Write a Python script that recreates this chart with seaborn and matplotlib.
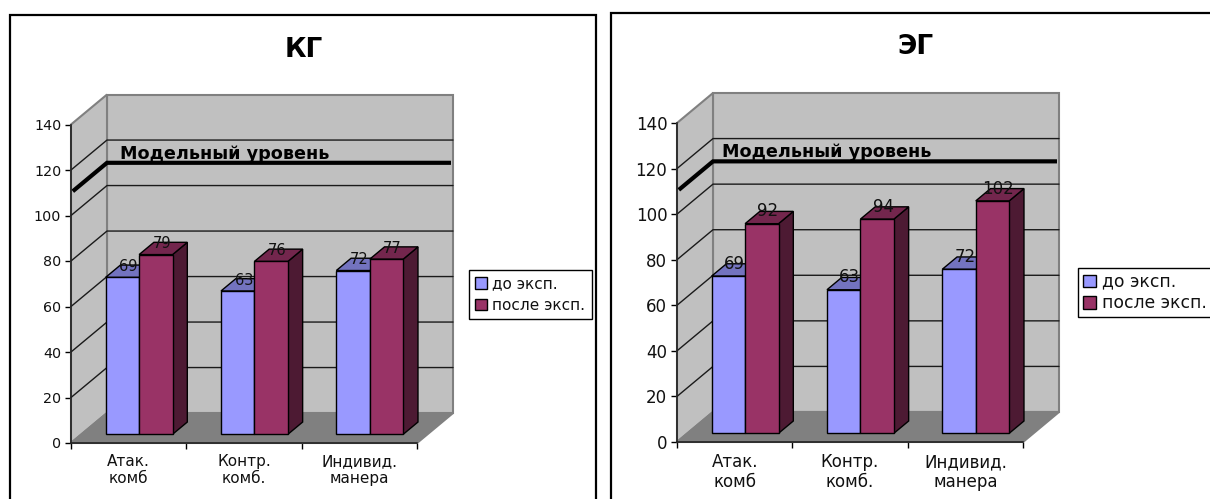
import matplotlib
matplotlib.use("Agg")
import matplotlib.pyplot as plt
import pandas as pd
import seaborn as sns
from matplotlib.patches import Patch, Polygon, Rectangle

categories = ["Атак.\nкомб", "Контр.\nкомб.", "Индивид.\nманера"]
stages = ["до эксп.", "после эксп."]
before_kg = [69, 63, 72]
after_kg = [79, 76, 77]
before_eg = [69, 63, 72]
after_eg = [92, 94, 102]
model_level = 110
model_label = "Модельный уровень"
y_ticks = [0, 20, 40, 60, 80, 100, 120, 140]

WIDTH, HEIGHT = 1210, 499
DPI = 100
FRONT_FILL = {"до эксп.": "#9999FF", "после эксп.": "#993366"}
TOP_FILL = {"до эксп.": "#7373BF", "после эксп.": "#73264D"}
SIDE_FILL = {"до эксп.": "#4D4D80", "после эксп.": "#4D1A33"}
WALL = "#C0C0C0"
FLOOR = "#808080"

# Oblique projection of the 3D box, as an offset per unit of depth
DEPTH_X = 36 / (346 / 3)
DEPTH_Y = 30 / (319 / 140)
BAR_START = 0.29
BAR_DEPTH = 0.41

sns.set_theme(style="white")
plt.rcParams["font.family"] = ["DejaVu Sans"]
fig = plt.figure(figsize=(WIDTH / DPI, HEIGHT / DPI), dpi=DPI, facecolor="white")


def px_box(left, top, right, bottom):
    return [left / WIDTH, 1 - bottom / HEIGHT, (right - left) / WIDTH, (bottom - top) / HEIGHT]


def project(x, y, depth):
    return x + depth * DEPTH_X, y + depth * DEPTH_Y


def draw_box(ax):
    x0, x1 = -0.5, 2.5
    y0, y1 = 0, 140
    wall = dict(clip_on=False, edgecolor="#808080", linewidth=1.5)
    ax.add_patch(Polygon([project(x0, y0, 1), project(x1, y0, 1), project(x1, y1, 1), project(x0, y1, 1)],
                         facecolor=WALL, zorder=1, **wall))
    ax.add_patch(Polygon([project(x0, y0, 0), project(x0, y0, 1), project(x0, y1, 1), project(x0, y1, 0)],
                         facecolor=WALL, zorder=1, **wall))
    ax.add_patch(Polygon([project(x0, y0, 0), project(x1, y0, 0), project(x1, y0, 1), project(x0, y0, 1)],
                         facecolor=FLOOR, zorder=1.2, **wall))
    for tick in y_ticks[1:-1]:
        xs, ys = zip(project(x0, tick, 0), project(x0, tick, 1), project(x1, tick, 1))
        ax.plot(xs, ys, color="#1a1a1a", lw=1, clip_on=False, zorder=1.1)


def draw_panel(box, legend_at, title, title_at, before, after, sizes):
    ax = fig.add_axes(px_box(*box))
    ax.patch.set_visible(False)
    draw_box(ax)

    table = pd.DataFrame({
        "category": categories * 2,
        "stage": [stages[0]] * 3 + [stages[1]] * 3,
        "value": before + after,
    })
    walls = len(ax.patches)
    sns.barplot(data=table, x="category", y="value", hue="stage", hue_order=stages,
                order=categories, palette=FRONT_FILL, width=0.58, saturation=1,
                edgecolor="black", linewidth=1, legend=False, ax=ax, zorder=3)
    bars = list(ax.patches[walls:])

    # Seaborn lays the bars out; shift them into the box and add the side and top faces
    shift_x, shift_y = project(0, 0, BAR_START)
    for idx, (bar, stage, value) in enumerate(zip(bars, table["stage"], table["value"])):
        left, width = bar.get_x(), bar.get_width()
        bar.set_xy((left + shift_x, shift_y))
        bar.set_clip_on(False)
        order = 3 + idx % 3 + (0.5 if stage == stages[1] else 0)
        bar.set_zorder(order + 0.2)
        right = left + shift_x + width
        base = left + shift_x
        top = shift_y + value
        side = [project(right, shift_y, 0), project(right, shift_y, BAR_DEPTH),
                project(right, top, BAR_DEPTH), project(right, top, 0)]
        roof = [project(base, top, 0), project(right, top, 0),
                project(right, top, BAR_DEPTH), project(base, top, BAR_DEPTH)]
        ax.add_patch(Polygon(side, facecolor=SIDE_FILL[stage], edgecolor="black", lw=1,
                             clip_on=False, zorder=order))
        ax.add_patch(Polygon(roof, facecolor=TOP_FILL[stage], edgecolor="black", lw=1,
                             clip_on=False, zorder=order))
        lx, ly = project(base + width / 2, top, BAR_DEPTH / 2)
        ax.annotate(str(value), (lx, ly), xytext=(-1, -2), textcoords="offset points",
                    ha="center", va="bottom", fontsize=sizes["value"], color="#111111",
                    annotation_clip=False, zorder=8)

    xs, ys = zip(project(-0.5, model_level, 0.05), project(-0.5, model_level, 1),
                 project(2.5 - 2 / (346 / 3), model_level, 1))
    ax.plot(xs, ys, color="black", lw=3, solid_joinstyle="miter", solid_capstyle="butt",
            clip_on=False, zorder=2)
    lx, ly = project(-0.5 + sizes["label_inset"] / (346 / 3), model_level, 1)
    ax.annotate(model_label, (lx, ly), xytext=(0, 0), textcoords="offset points",
                ha="left", va="bottom", fontsize=12.7, fontweight="bold", color="black",
                annotation_clip=False, zorder=2.5)

    ax.set_xlim(-0.5, 2.5)
    ax.set_ylim(0, 140)
    ax.set_yticks(y_ticks)
    ax.set_xticks([0, 1, 2], categories)
    ax.set_xticks([-0.5, 0.5, 1.5, 2.5], minor=True)
    ax.set_xlabel("")
    ax.set_ylabel("")
    ax.tick_params(axis="x", which="major", length=0, pad=8, labelsize=sizes["category"],
                   labelcolor="#111111")
    ax.tick_params(axis="x", which="minor", length=4, width=1, color="black", bottom=True)
    ax.tick_params(axis="y", length=4, width=1, color="black", left=True, pad=3,
                   labelsize=sizes["tick"], labelcolor="#111111")
    for label in ax.get_xticklabels():
        label.set_linespacing(1.15)
    sns.despine(ax=ax, top=True, right=True)
    for name in ("left", "bottom"):
        ax.spines[name].set_color("#222222")
        ax.spines[name].set_linewidth(1.2)
        ax.spines[name].set_zorder(6)

    fig.text(title_at[0] / WIDTH, 1 - title_at[1] / HEIGHT, title, ha="center", va="center",
             fontsize=19, fontweight="bold", color="black")

    handles = [Patch(facecolor=FRONT_FILL[s], edgecolor="black", lw=1, label=s) for s in stages]
    ax.legend(handles=handles, loc="upper left",
              bbox_to_anchor=(legend_at[0] / WIDTH, 1 - legend_at[1] / HEIGHT),
              bbox_transform=fig.transFigure, borderaxespad=0, frameon=True, fancybox=False,
              framealpha=1, edgecolor="black", fontsize=sizes["legend"], handlelength=0.75,
              handleheight=0.75, handletextpad=0.35, labelspacing=sizes["legend_gap"],
              borderpad=sizes["legend_pad"], labelcolor="#111111")


# Outer chart frames run off the bottom of the sheet
for left, top, right in [(10, 15, 596), (611, 13, 1250)]:
    fig.add_artist(Rectangle((left / WIDTH, -0.02), (right - left) / WIDTH,
                             1.02 - top / HEIGHT, transform=fig.transFigure, facecolor="white",
                             edgecolor="black", linewidth=1.6, zorder=-1))

kg_sizes = {"value": 10.5, "category": 11, "tick": 10.3, "legend": 11,
            "legend_gap": 0.4, "legend_pad": 0.42, "label_inset": 12.5}
eg_sizes = {"value": 12, "category": 12, "tick": 12, "legend": 12.4,
            "legend_gap": 0.2, "legend_pad": 0.28, "label_inset": 9}
draw_panel((71, 124.5, 417, 443), (469, 270), "КГ", (304, 50), before_kg, after_kg, kg_sizes)
draw_panel((677, 123, 1023, 442), (1078, 268), "ЭГ", (915, 47), before_eg, after_eg, eg_sizes)

fig.savefig("out.png", dpi=DPI)
